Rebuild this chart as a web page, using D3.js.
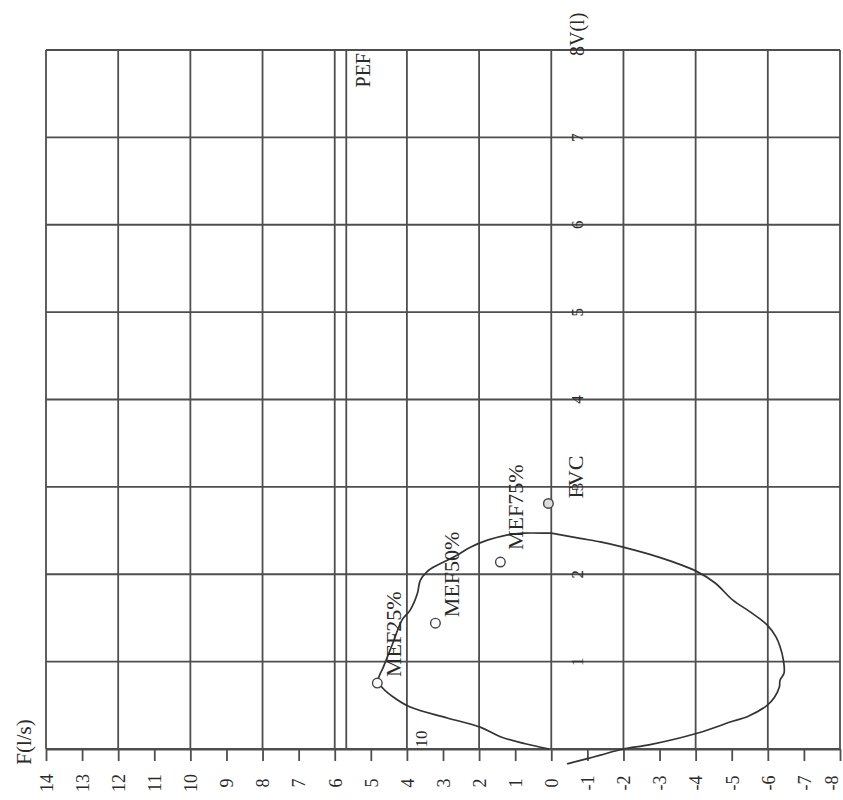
<!DOCTYPE html>
<html>
<head>
<meta charset="utf-8">
<script src="https://cdn.jsdelivr.net/npm/d3@7"></script>
<style>
  html, body { margin: 0; padding: 0; background: #fff; }
  svg { display: block; }
  text { font-family: "Liberation Serif", "Times New Roman", serif; fill: #2a2a2a; }
</style>
</head>
<body>
<svg id="chart" width="843" height="800"></svg>
<script>
// ---------- data ----------
const fTicks = [14,13,12,11,10,9,8,7,6,5,4,3,2,1,0,-1,-2,-3,-4,-5,-6,-7,-8];
const fGrid = [14,12,10,8,6,4,2,0,-2,-4,-6,-8];
const vGrid = [0,1,2,3,4,5,6,7,8];
const vTickLabels = [1,2,3,4,5,6,7,8];

// expiratory limb (F l/s, V l)
const expF = [0.06,0.72,1.41,1.97,2.88,3.91,4.38,4.68,4.79,4.65,4.41,4.13,3.91,3.71,3.63,3.44,3.27,2.88,2.60,2.24,1.77,1.33,0.78,0.11,0];
const expV = [0,0.06,0.14,0.25,0.355,0.48,0.595,0.70,0.79,0.94,1.19,1.48,1.59,1.78,1.93,2.03,2.08,2.16,2.22,2.31,2.39,2.44,2.47,2.47,2.47];
// inspiratory limb
const insF = [0,-0.8,-1.36,-1.99,-3.02,-4.04,-4.54,-5.04,-5.51,-5.98,-6.23,-6.34,-6.43,-6.45,-6.34,-6.32,-6.18,-5.98,-5.43,-5.04,-4.04,-2.74,-1.99,-1.36,-1.0,-0.44];
const insV = [2.47,2.41,2.37,2.31,2.19,2.03,1.90,1.70,1.57,1.42,1.28,1.17,1.02,0.87,0.79,0.71,0.59,0.50,0.37,0.32,0.18,0.05,0.0,-0.07,-0.11,-0.17];

// reference markers
const markerNames = ["MEF25%","MEF50%","MEF75%","FVC"];
const markerF = [4.82,3.21,1.41,0.08];
const markerV = [0.755,1.44,2.14,2.81];

const pefValue = 5.68;

// ---------- scales ----------
const svg = d3.select("#chart");
const x = d3.scaleLinear().domain([14,-8]).range([46,840]);
const y = d3.scaleLinear().domain([0,8]).range([749,50]);

const gridColor = "#4e4e4e";
const gridW = 1.8;

// grid verticals
svg.append("g").selectAll("line").data(fGrid).join("line")
  .attr("x1", d => x(d)).attr("x2", d => x(d))
  .attr("y1", y(8)).attr("y2", y(0))
  .attr("stroke", gridColor).attr("stroke-width", gridW);

// grid horizontals
svg.append("g").selectAll("line").data(vGrid).join("line")
  .attr("x1", x(14)).attr("x2", x(-8))
  .attr("y1", d => y(d)).attr("y2", d => y(d))
  .attr("stroke", gridColor).attr("stroke-width", gridW);

// PEF line
svg.append("line")
  .attr("x1", x(pefValue)).attr("x2", x(pefValue))
  .attr("y1", y(8)).attr("y2", y(0))
  .attr("stroke", gridColor).attr("stroke-width", gridW);
svg.append("text")
  .attr("transform", `translate(${x(pefValue)+17},${y(8)+3}) rotate(-90)`)
  .attr("text-anchor", "end").attr("dy", "0.35em")
  .attr("font-size", 20).text("PEF");

// bottom axis
const axis = d3.axisBottom(x).tickValues(fTicks).tickSize(12).tickSizeOuter(0).tickFormat(d => String(d));
const ax = svg.append("g").attr("transform", `translate(0,${y(0)})`).call(axis);
ax.select(".domain").attr("stroke", gridColor).attr("stroke-width", gridW);
ax.selectAll(".tick line").attr("stroke", gridColor).attr("stroke-width", gridW);
ax.selectAll(".tick text")
  .attr("font-family", "Liberation Serif, serif")
  .attr("font-size", 18).attr("fill", "#2a2a2a")
  .attr("y", 0).attr("x", 0).attr("dy", "0.35em")
  .attr("text-anchor", "middle")
  .attr("transform", d => `translate(${d === -8 ? -9 : 0},34) rotate(-90)`);

// F axis title
svg.append("text")
  .attr("transform", `translate(24,742) rotate(-90)`)
  .attr("text-anchor", "middle").attr("dy", "0.35em")
  .attr("font-size", 21).text("F(l/s)");

// V tick labels
svg.append("g").selectAll("text").data(vTickLabels.slice(0, -1)).join("text")
  .attr("transform", d => `translate(${x(0)+26},${y(d)}) rotate(-90)`)
  .attr("text-anchor", "middle").attr("dy", "0.35em")
  .attr("font-size", 17).text(d => d);
// top label "8V(l)"
svg.append("text")
  .attr("transform", `translate(${x(0)+26},${y(8)+6}) rotate(-90)`)
  .attr("text-anchor", "start").attr("dy", "0.35em")
  .attr("font-size", 20).text(vTickLabels[vTickLabels.length-1] + "V(l)");

// curve
const line = d3.line().x(d => x(d[0])).y(d => y(d[1])).curve(d3.curveCatmullRom.alpha(0.5));
const expPts = expF.map((f,i) => [f, expV[i]]);
const insPts = insF.map((f,i) => [f, insV[i]]);
svg.append("path").datum(expPts).attr("d", line)
  .attr("fill", "none").attr("stroke", "#333").attr("stroke-width", 1.7);
svg.append("path").datum(insPts).attr("d", line)
  .attr("fill", "none").attr("stroke", "#333").attr("stroke-width", 1.7);

// markers
const labelOffsets = [[16,-6],[16,-6],[15,-12],[27,-5]];
markerNames.forEach((name, i) => {
  const cx = x(markerF[i]), cy = y(markerV[i]);
  svg.append("circle").attr("cx", cx).attr("cy", cy).attr("r", 4.8)
    .attr("fill", i === 3 ? "#ddd" : "#fff").attr("stroke", "#444").attr("stroke-width", 1.4);
  svg.append("text")
    .attr("transform", `translate(${cx+labelOffsets[i][0]},${cy+labelOffsets[i][1]}) rotate(-90)`)
    .attr("text-anchor", "start").attr("dy", "0.35em")
    .attr("font-size", 22).text(name);
});

// faint pink stamp
svg.append("text")
  .attr("transform", `translate(421,739) rotate(-90)`)
  .attr("text-anchor", "middle").attr("dy", "0.35em")
  .attr("font-size", 17).attr("fill", "#e9a9bb").text("10");
</script>
</body>
</html>
